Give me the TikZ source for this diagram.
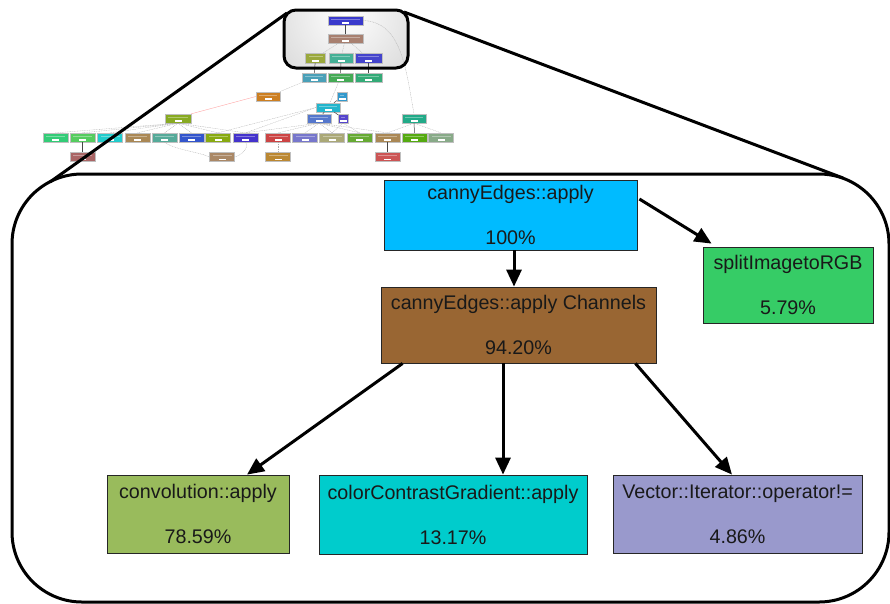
\documentclass[tikz,border=0pt]{standalone}
\usepackage{fontspec}
\setmainfont{Liberation Sans}
\usetikzlibrary{arrows.meta,calc}

% main call-graph colours
\definecolor{cApply}{HTML}{00BBFF}
\definecolor{cSplit}{HTML}{36CC66}
\definecolor{cChan}{HTML}{996633}
\definecolor{cConv}{HTML}{99BB5C}
\definecolor{cGrad}{HTML}{00CCCC}
\definecolor{cIter}{HTML}{9999CC}

% overview colours
\definecolor{oTop}{HTML}{3A3ACC}
\definecolor{oBrown}{HTML}{A88070}
\definecolor{oOlive}{HTML}{9AA83C}
\definecolor{oTeal}{HTML}{44B096}
\definecolor{oBlue}{HTML}{4444CC}
\definecolor{oCadet}{HTML}{4AA0B8}
\definecolor{oGreen}{HTML}{44AA55}
\definecolor{oSea}{HTML}{33AA77}
\definecolor{oOrange}{HTML}{CC7F22}
\definecolor{oSky}{HTML}{3399CC}
\definecolor{oCyan}{HTML}{22B5CC}
\definecolor{oYG}{HTML}{88AA22}
\definecolor{oLBlue}{HTML}{5577CC}
\definecolor{oPurple}{HTML}{5544CC}
\definecolor{oSea2}{HTML}{22AA88}
\definecolor{oR1}{HTML}{33CC77}
\definecolor{oR2}{HTML}{55CC5F}
\definecolor{oR3}{HTML}{22CCCC}
\definecolor{oR4}{HTML}{AA8855}
\definecolor{oR5}{HTML}{55AA99}
\definecolor{oR6}{HTML}{3355CC}
\definecolor{oR7}{HTML}{88AA11}
\definecolor{oR8}{HTML}{4433CC}
\definecolor{oR9}{HTML}{CC4444}
\definecolor{oR10}{HTML}{7777CC}
\definecolor{oR11}{HTML}{AAA877}
\definecolor{oR12}{HTML}{66AA33}
\definecolor{oR13}{HTML}{AA8855}
\definecolor{oR14}{HTML}{55AA11}
\definecolor{oR15}{HTML}{88AA88}
\definecolor{oB1}{HTML}{AA6666}
\definecolor{oB2}{HTML}{AA8866}
\definecolor{oB3}{HTML}{BB8833}
\definecolor{oB4}{HTML}{CC5555}

\tikzset{
  box/.style={draw=black!85, line width=0.8pt, fill=#1, inner sep=0pt,
    align=center, text=black!90, font=\fontsize{19.7}{45}\selectfont},
  arr/.style={line width=3pt, -{Triangle[length=17pt,width=15pt]}},
  frame/.style={line width=3pt, draw=black},
  mini/.style={draw=white!75!black, line width=0.3pt, fill=#1, inner sep=0pt,
    minimum height=9pt, minimum width=25pt,
    path picture={
      \fill[white,opacity=0.35] ($(path picture bounding box.north west)+(3,2.5)$)
        rectangle ($(path picture bounding box.north east)+(-3,3.6)$);
      \fill[white] ($(path picture bounding box.south)+(-3.5,-2.6)$)
        rectangle ($(path picture bounding box.south)+(3.5,-1.5)$);
    }},
  te/.style={draw=gray!65, line width=0.3pt, dash pattern=on 1pt off 0.7pt},
  ts/.style={draw=gray!55!black, line width=0.5pt},
  tp/.style={draw=red!35, line width=0.4pt},
}

\begin{document}
\begin{tikzpicture}[x=1pt, y=-1pt]
\useasboundingbox (0,0) rectangle (890,603);

% ---------- overview: spotlight window ----------
\begin{scope}
  \clip[rounded corners=12] (284,10) rectangle (408,68);
  \shade[inner color=white, outer color=gray!38] (346,14) circle (110);
\end{scope}

% ---------- overview: call graph ----------
\node[mini=oTop, minimum width=35pt] (n0) at (345.5,20.5) {};
\node[mini=oBrown, minimum width=35pt] (n1) at (345.5,38.5) {};
\node[mini=oOlive, minimum width=20pt, minimum height=10pt] (n2a) at (315.5,58) {};
\node[mini=oTeal, minimum width=24pt, minimum height=10pt] (n2b) at (341,58) {};
\node[mini=oBlue, minimum width=27pt, minimum height=10pt] (n2c) at (368.5,58) {};
\node[mini=oCadet, minimum width=24pt] (n3a) at (314,77.5) {};
\node[mini=oGreen, minimum width=25pt] (n3b) at (340.5,77.5) {};
\node[mini=oSea, minimum width=27pt] (n3c) at (368.5,77.5) {};
\node[mini=oOrange, minimum width=24pt] (n4a) at (268,96.5) {};
\node[mini=oSky, minimum width=10pt] (n4b) at (342,96.5) {};
\node[mini=oCyan, minimum width=24pt] (n5) at (328,107.5) {};
\node[mini=oYG, minimum width=26pt] (n6a) at (178,118.5) {};
\node[mini=oLBlue, minimum width=24pt] (n6b) at (319,118.5) {};
\node[mini=oPurple, minimum width=10pt] (n6c) at (343,118.5) {};
\node[mini=oSea2, minimum width=24pt] (n6d) at (414,118.5) {};

\node[mini=oR1] (r1) at (55.5,137.5) {};
\node[mini=oR2] (r2) at (82.5,137.5) {};
\node[mini=oR3] (r3) at (110,137.5) {};
\node[mini=oR4] (r4) at (137.5,137.5) {};
\node[mini=oR5] (r5) at (164.5,137.5) {};
\node[mini=oR6] (r6) at (191.5,137.5) {};
\node[mini=oR7] (r7) at (218,137.5) {};
\node[mini=oR8] (r8) at (245.5,137.5) {};
\node[mini=oR9] (r9) at (278,137.5) {};
\node[mini=oR10] (r10) at (305,137.5) {};
\node[mini=oR11] (r11) at (332,137.5) {};
\node[mini=oR12] (r12) at (359.5,137.5) {};
\node[mini=oR13] (r13) at (387.5,137.5) {};
\node[mini=oR14] (r14) at (414.5,137.5) {};
\node[mini=oR15] (r15) at (441,137.5) {};

\node[mini=oB1] (b1) at (82.5,157) {};
\node[mini=oB2] (b2) at (222,157) {};
\node[mini=oB3] (b3) at (278,157) {};
\node[mini=oB4] (b4) at (387.5,157) {};

% overview edges
\draw[ts] (n0) -- (n1);
\draw[te] (n0.east) .. controls (402,22) and (406,70) .. (n6d.north);
\draw[te] (n1) -- (n2a);
\draw[te] (n1) -- (n2b);
\draw[te] (n1) -- (n2c);
\draw[ts] (n2a) -- (n3a);
\draw[ts] (n2b) -- (n3b);
\draw[ts] (n2c) -- (n3c);
\draw[te] (n3a) -- (n4a);
\draw[te] (n3b) -- (n5);
\draw[ts] (n4b) -- (n5);
\draw[tp] (n4a.west) -- (n6a.north east);
\draw[ts] (n5) -- (n6b);
\draw[ts] (n5) -- (n6c);
\draw[te] (n5.west) -- (r7.north);
\draw[te] (n5.west) -- (r8.north);
\foreach \t in {r1,r2,r3,r4,r5,r6,r7,r8}
  \draw[te] (n6a.south) -- (\t.north);
\foreach \t in {r8,r9,r10,r11,r12,r13}
  \draw[te] (n6b.south) -- (\t.north);
\draw[te] (n6c.south) -- (r11.north);
\draw[te] (n6c.south) -- (r12.north);
\draw[te] (n6d.south) -- (r13.north);
\draw[ts] (n6d) -- (r14);
\draw[te] (n6d.south) -- (r15.north);
\draw[ts] (r2) -- (b1);
\draw[ts] (r13) -- (b4);
\draw[te] (r9) -- (b3);
\draw[te] (r5.south) .. controls (175,150) and (200,152) .. (b2.west);
\draw[te] (r8.south) .. controls (250,148) and (240,156) .. (b2.east);

% spotlight border
\draw[frame, rounded corners=12] (284,10) rectangle (408,68);

% ---------- magnified view ----------
\draw[frame, rounded corners=70] (12,174) rectangle (889,602);
\coordinate (wl) at (287,13);
\coordinate (wr) at (404,12);
\coordinate (ml) at (50,182);
\coordinate (mr) at (843,178);
\draw[frame] (wl) -- (ml);
\draw[frame] (wr) -- (mr);

\node[box=cApply, minimum width=253pt, minimum height=70pt] (A) at (510.5,215) {cannyEdges::apply\\100\%};
\node[box=cSplit, minimum width=170pt, minimum height=76pt] (S) at (788,285) {splitImagetoRGB\\5.79\%};
\node[box=cChan, minimum width=275pt, minimum height=76pt] (C) at (518.5,325) {cannyEdges::apply Channels\\94.20\%};
\node[box=cConv, minimum width=182pt, minimum height=78pt] (V1) at (198,514) {convolution::apply\\78.59\%};
\node[box=cGrad, minimum width=268pt, minimum height=79pt] (V2) at (453,514.5) {colorContrastGradient::apply\\13.17\%};
\node[box=cIter, minimum width=249pt, minimum height=78pt] (V3) at (737.5,514) {Vector::Iterator::operator!=\\4.86\%};

\draw[arr] ([xshift=3.5pt]A.south) -- ([xshift=-4.5pt]C.north);
\draw[arr] ([xshift=2pt,yshift=16pt]A.east) -- ([xshift=9pt,yshift=3pt]S.north west);
\draw[arr] ([xshift=22pt]C.south west) -- ([xshift=49pt]V1.north);
\draw[arr] ([xshift=-15.5pt]C.south) -- ([xshift=50pt]V2.north);
\draw[arr] ([xshift=-21pt]C.south east) -- ([xshift=-5.5pt]V3.north);
\end{tikzpicture}
\end{document}
